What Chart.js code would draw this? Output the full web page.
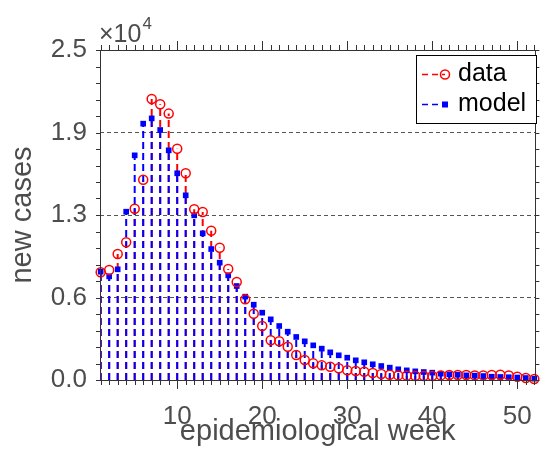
<!DOCTYPE html>
<html>
<head>
<meta charset="utf-8">
<script src="https://cdn.jsdelivr.net/npm/chart.js@4/dist/chart.umd.min.js"></script>
<style>
  body { margin: 0; background: #fff; }
  #wrap { width: 545px; height: 449px; position: relative; }
</style>
</head>
<body>
<div id="wrap"><canvas id="weekChart"></canvas></div>
<script>
const weeks = [1, 2, 3, 4, 5, 6, 7, 8, 9, 10, 11, 12, 13, 14, 15, 16, 17, 18, 19, 20, 21, 22, 23, 24, 25, 26,
    27, 28, 29, 30, 31, 32, 33, 34, 35, 36, 37, 38, 39, 40, 41, 42, 43, 44, 45, 46, 47, 48, 49, 50, 51, 52];

// observed new cases per week
const dataCases = [8160, 8330, 9545, 10430, 12980, 15175, 21290, 20890, 20180, 17525, 15660, 12930, 12730,
    11310, 10025, 8410, 7425, 6110, 5025, 4090, 3005, 2930, 2525, 1895, 1515, 1260, 1110, 1010, 885, 730,
    680, 630, 530, 455, 400, 350, 330, 300, 300, 300, 350, 380, 380, 380, 350, 350, 380, 400, 350, 250, 150, 75];

// model fit
const modelCases = [8205, 7850, 8385, 12750, 17020, 19420, 19820, 18940, 17400, 15660, 13990, 12475, 11110,
    9920, 8890, 7930, 7120, 6315, 5705, 5100, 4595, 4090, 3660, 3260, 2930, 2625, 2375, 2095, 1870, 1690,
    1490, 1340, 1190, 1060, 935, 810, 730, 655, 605, 555, 480, 430, 400, 350, 330, 300, 250, 230, 210, 190, 150, 100];

const xTickValues = [10, 20, 30, 40, 50];
const yTickValues = [0, 6250, 12500, 18750, 25000];
const yTickLabels = ['0.0', '0.6', '1.3', '1.9', '2.5'];

const gray = '#4d4d4d';
const fontFamily = '"Liberation Sans", Arial, sans-serif';

// vertical stems from 0 to each value, broken with nulls
function stems(vals) {
    const pts = [];
    weeks.forEach((w, i) => {
        pts.push({x: w, y: 0}, {x: w, y: vals[i]}, {x: w, y: null});
    });
    return pts;
}
function points(vals) {
    return weeks.map((w, i) => ({x: w, y: vals[i]}));
}

// box, tick marks, x10^4 and legend
const framePlugin = {
    id: 'frame',
    afterDraw(chart) {
        const c = chart.ctx;
        const xs = chart.scales.x, ys = chart.scales.y;
        const a = chart.chartArea;
        c.save();
        c.strokeStyle = '#333';
        c.lineWidth = 1;
        c.setLineDash([]);
        c.strokeRect(Math.round(a.left) + 0.5, Math.round(a.top) + 0.5,
            Math.round(a.right - a.left), Math.round(a.bottom - a.top));
        c.beginPath();
        for (let w = 1; w <= 52; w++) {
            const x = Math.round(xs.getPixelForValue(w)) + 0.5;
            const len = w % 10 === 0 ? 9 : 5;
            c.moveTo(x, a.bottom); c.lineTo(x, a.bottom + len);
            c.moveTo(x, a.top); c.lineTo(x, a.top - len);
        }
        for (let v = 0; v <= 25000; v += 1250) {
            const y = Math.round(ys.getPixelForValue(v)) + 0.5;
            c.moveTo(a.left - 4, y); c.lineTo(a.left, y);
            c.moveTo(a.right, y); c.lineTo(a.right + 4, y);
        }
        c.stroke();

        // exponent label
        c.fillStyle = gray;
        c.textBaseline = 'alphabetic';
        c.textAlign = 'left';
        c.font = '25px ' + fontFamily;
        c.fillText('\u00d710', 99, 42);
        const wx = c.measureText('\u00d710').width;
        c.font = '17px ' + fontFamily;
        c.fillText('4', 99 + wx + 1, 29);

        // legend
        const lx = 416, ly = 55, lw = 120, lh = 68;
        c.fillStyle = '#fff';
        c.fillRect(lx, ly, lw, lh);
        c.strokeStyle = '#000';
        c.strokeRect(lx + 0.5, ly + 0.5, lw, lh);
        c.lineWidth = 1.5;
        c.setLineDash([6, 4]);
        c.strokeStyle = '#ff0000';
        c.beginPath(); c.moveTo(422, 74.5); c.lineTo(445, 74.5); c.stroke();
        c.strokeStyle = '#0000ff';
        c.beginPath(); c.moveTo(422, 104.5); c.lineTo(445, 104.5); c.stroke();
        c.setLineDash([]);
        c.strokeStyle = '#ff0000';
        c.beginPath(); c.arc(445, 74.5, 4.5, 0, Math.PI * 2); c.stroke();
        c.fillStyle = '#0000ff';
        c.fillRect(442, 101.5, 6, 6);
        c.fillStyle = '#000';
        c.textBaseline = 'middle';
        c.font = '25px ' + fontFamily;
        c.fillText('data', 458, 74);
        c.fillText('model', 458, 104);
        c.restore();
    }
};

const ctx = document.getElementById('weekChart').getContext('2d');
new Chart(ctx, {
    type: 'scatter',
    data: {
        datasets: [
            {
                label: 'data',
                data: points(dataCases),
                showLine: false,
                pointStyle: 'circle',
                pointRadius: 4.5,
                pointBorderWidth: 1.5,
                pointBorderColor: '#ff0000',
                pointBackgroundColor: 'rgba(0,0,0,0)',
                clip: false,
                order: 0
            },
            {
                label: 'model',
                data: points(modelCases),
                showLine: false,
                pointStyle: 'rect',
                pointRadius: 4,
                pointBorderWidth: 0,
                pointBackgroundColor: '#0000ff',
                pointBorderColor: '#0000ff',
                clip: false,
                order: 1
            },
            {
                label: 'model stems',
                data: stems(modelCases),
                showLine: true,
                spanGaps: false,
                pointRadius: 0,
                borderColor: '#0000ff',
                borderWidth: 2,
                borderDash: [7, 4],
                order: 2
            },
            {
                label: 'data stems',
                data: stems(dataCases),
                showLine: true,
                spanGaps: false,
                pointRadius: 0,
                borderColor: '#ff0000',
                borderWidth: 2,
                borderDash: [7, 4],
                order: 3
            }
        ]
    },
    options: {
        responsive: true,
        maintainAspectRatio: false,
        animation: false,
        layout: {
            padding: {top: 50, right: 4, left: 0, bottom: 0}
        },
        scales: {
            x: {
                type: 'linear',
                min: 0.92,
                max: 52.13,
                afterBuildTicks: (scale) => { scale.ticks = xTickValues.map(v => ({value: v})); },
                afterFit: (scale) => { scale.height = 69; },
                grid: { display: false },
                border: { display: false },
                ticks: {
                    color: gray,
                    padding: 13,
                    maxRotation: 0,
                    autoSkip: false,
                    font: { family: fontFamily, size: 26 }
                },
                title: {
                    display: true,
                    text: 'epidemiological week',
                    color: gray,
                    padding: {top: 0, bottom: 0},
                    font: { family: fontFamily, size: 29 }
                }
            },
            y: {
                min: 0,
                max: 25000,
                afterBuildTicks: (scale) => { scale.ticks = yTickValues.map(v => ({value: v})); },
                afterFit: (scale) => { scale.width = 100; },
                grid: {
                    drawTicks: false,
                    color: (c) => (c.tick && (c.tick.value === 0 || c.tick.value === 25000)) ? 'rgba(0,0,0,0)' : '#555'
                },
                border: { display: false, dash: [4, 3] },
                ticks: {
                    color: gray,
                    padding: 13,
                    font: { family: fontFamily, size: 26 },
                    callback: (v) => yTickLabels[yTickValues.indexOf(v)]
                },
                title: {
                    display: true,
                    text: 'new cases',
                    color: gray,
                    padding: {top: 6, bottom: 6},
                    font: { family: fontFamily, size: 29 }
                }
            }
        },
        plugins: {
            legend: { display: false },
            tooltip: { enabled: false }
        }
    },
    plugins: [framePlugin]
});
</script>
</body>
</html>
